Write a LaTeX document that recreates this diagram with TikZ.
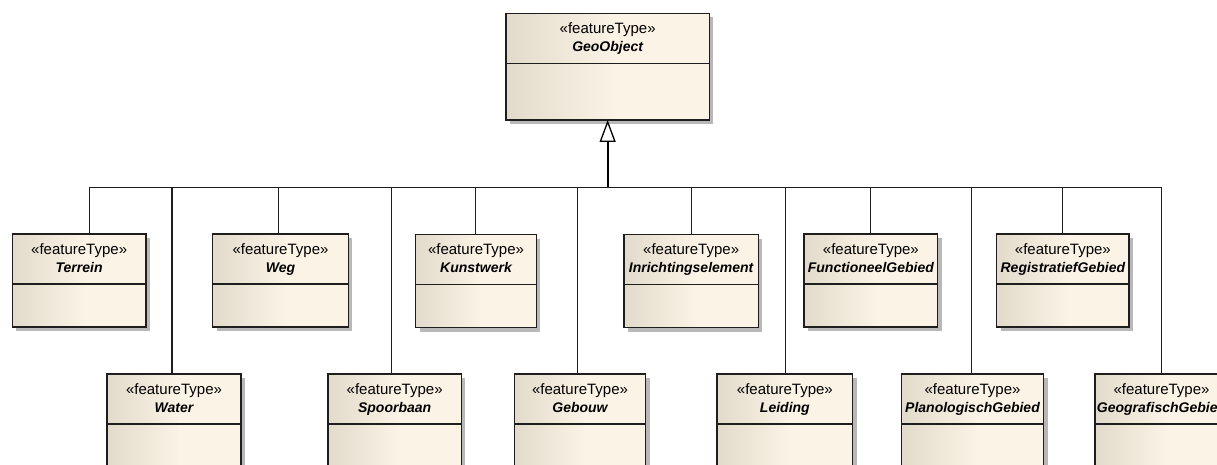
\documentclass[tikz,border=0pt]{standalone}
\usepackage{fontspec}
\setmainfont{Liberation Sans}
\usetikzlibrary{arrows.meta,shadows}
\definecolor{ftdark}{RGB}{226,218,203}
\definecolor{ftlight}{RGB}{251,243,229}
\definecolor{lncol}{RGB}{30,30,30}
\pgfdeclarehorizontalshading{ftshade}{100bp}{color(0bp)=(ftdark); color(25bp)=(ftdark); color(52bp)=(ftlight); color(100bp)=(ftlight)}
\tikzset{
  cls/.style={draw=lncol, line width=1.2pt, shading=ftshade,
    drop shadow={shadow xshift=4pt, shadow yshift=-4pt, fill=black, opacity=0.28},
    inner sep=0pt, outer sep=0pt, anchor=north west},
  divl/.style={draw=lncol, line width=1.2pt},
  stereo/.style={anchor=base, inner sep=0pt, font=\fontsize{15}{17}\selectfont},
  cname/.style={anchor=base, inner sep=0pt, font=\fontsize{14}{16}\selectfont\bfseries\itshape},
  conn/.style={draw=lncol, line width=1.5pt},
  stem/.style={draw=black, line width=2.2pt},
}
\newcommand{\ftbox}[6]{%
  \node[cls, minimum width=#4pt, minimum height=#5pt] (#1) at (#2,464-#3) {};
  \draw[divl] ([yshift=-50pt]#1.north west) -- ([yshift=-50pt]#1.north east);
  \node[stereo] (#1-s) at ([yshift=-20.3pt]#1.north) {«featureType»};
  \node[cname] (#1-n) at ([yshift=-38.3pt]#1.north) {#6};
}
\begin{document}
\begin{tikzpicture}[x=1pt,y=1pt]
\useasboundingbox (0,0) rectangle (1217,464);
\clip (0,0) rectangle (1217,464);
\fill[white] (0,0) rectangle (1217,464);

\ftbox{GeoObject}{506}{13.3}{203.3}{106.7}{GeoObject}

\ftbox{Terrein}{12.3}{234}{133.7}{93}{Terrein}
\ftbox{Weg}{212.7}{234}{135.6}{93}{Weg}
\ftbox{Kunstwerk}{415.7}{234.5}{120.6}{93}{Kunstwerk}
\ftbox{Inrichtingselement}{624}{234.5}{134.3}{93}{Inrichtingselement}
\ftbox{FunctioneelGebied}{804}{234}{133.7}{93}{FunctioneelGebied}
\ftbox{RegistratiefGebied}{996.7}{234}{132.3}{93}{RegistratiefGebied}

\ftbox{Water}{107}{374}{134}{110}{Water}
\ftbox{Spoorbaan}{328}{374}{133.3}{110}{Spoorbaan}
\ftbox{Gebouw}{514.3}{374}{131.4}{110}{Gebouw}
\ftbox{Leiding}{717}{374}{135.7}{110}{Leiding}
\ftbox{PlanologischGebied}{901.3}{374}{142.4}{110}{PlanologischGebied}
\ftbox{GeografischGebied}{1095}{374}{133}{110}{GeografischGebied}

\coordinate (jn) at (607.65,276.7);

\draw[conn] ([xshift=10.15pt]Terrein.north) |- (jn);
\draw[conn] ([xshift=-1.8pt]Weg.north) |- (jn);
\draw[conn] ([xshift=-0.7pt]Kunstwerk.north) |- (jn);
\draw[conn] ([xshift=0.5pt]Inrichtingselement.north) |- (jn);
\draw[conn] ([xshift=-0.5pt]FunctioneelGebied.north) |- (jn);
\draw[conn] ([xshift=-0.5pt]RegistratiefGebied.north) |- (jn);
\draw[conn] ([xshift=-2pt]Water.north) |- (jn);
\draw[conn] ([xshift=-3pt]Spoorbaan.north) |- (jn);
\draw[conn] ([xshift=-2.3pt]Gebouw.north) |- (jn);
\draw[conn] ([xshift=0.8pt]Leiding.north) |- (jn);
\draw[conn] ([xshift=-0.8pt]PlanologischGebied.north) |- (jn);
\draw[conn] ([xshift=0.2pt]GeografischGebied.north) |- (jn);

\draw[stem, -{Triangle[open, length=22pt, width=16pt, line width=1.3pt, fill=white]}] (jn) -- (GeoObject.south);
\end{tikzpicture}
\end{document}
